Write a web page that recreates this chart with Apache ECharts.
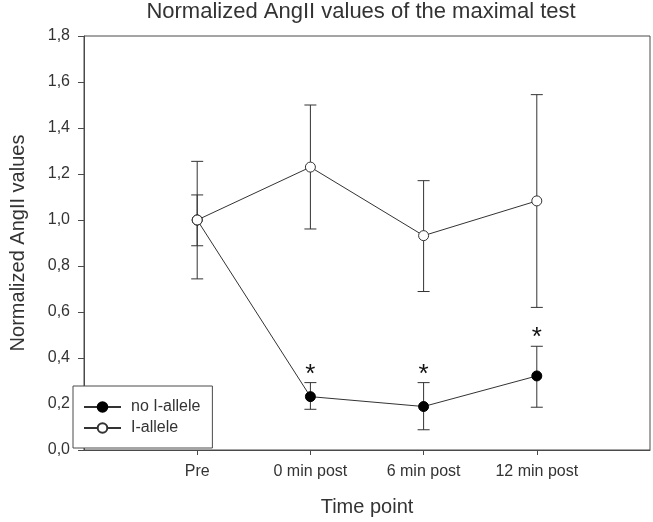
<!DOCTYPE html>
<html><head><meta charset="utf-8">
<script src="https://cdn.jsdelivr.net/npm/echarts@6/dist/echarts.min.js"></script>
<style>html,body{margin:0;padding:0;background:#fff}#c{width:653px;height:522px}</style>
</head><body><div id="c"></div>
<script>
const categories = ['Pre', '0 min post', '6 min post', '12 min post'];
const xPositions = [1, 2, 3, 4];
const yTicks = [0, 0.2, 0.4, 0.6, 0.8, 1.0, 1.2, 1.4, 1.6, 1.8];
const noAllele = [1.0, 0.232, 0.189, 0.322];
const noAlleleLow = [0.888, 0.177, 0.088, 0.186];
const noAlleleHigh = [1.109, 0.293, 0.293, 0.451];
const iAllele = [1.0, 1.230, 0.932, 1.083];
const iAlleleLow = [0.744, 0.961, 0.689, 0.620];
const iAlleleHigh = [1.255, 1.500, 1.171, 1.545];
const significance = ['', '*', '*', '*'];

const dark = '#333';
const axisColor = '#4a4a4a';
const font = 'Liberation Sans, Arial, sans-serif';

function errData(low, high) {
  return xPositions.map((x, i) => [x, low[i], high[i]]);
}
function errRender(params, api) {
  const x = api.value(0);
  const lo = api.coord([x, api.value(1)]);
  const hi = api.coord([x, api.value(2)]);
  const w = 6;
  const style = { stroke: dark, lineWidth: 1, fill: null };
  return {
    type: 'group',
    children: [
      { type: 'line', shape: { x1: lo[0], y1: lo[1], x2: hi[0], y2: hi[1] }, style },
      { type: 'line', shape: { x1: lo[0] - w, y1: lo[1], x2: lo[0] + w, y2: lo[1] }, style },
      { type: 'line', shape: { x1: hi[0] - w, y1: hi[1], x2: hi[0] + w, y2: hi[1] }, style }
    ]
  };
}

const chart = echarts.init(document.getElementById('c'), null, { renderer: 'canvas' });
chart.setOption({
  animation: false,
  backgroundColor: '#fff',
  title: {
    text: 'Normalized AngII values of the maximal test',
    left: 361, top: 1, padding: 0, textAlign: 'center',
    textStyle: { fontFamily: font, fontSize: 22, fontWeight: 'normal', color: dark }
  },
  grid: { left: 72, right: 3, top: 36, bottom: 70, show: true, borderColor: axisColor, borderWidth: 1, backgroundColor: 'transparent' },
  legend: {
    orient: 'vertical', left: 73, top: 386,
    padding: [13, 12, 12, 10], itemGap: 5, itemWidth: 37, itemHeight: 12,
    borderColor: axisColor, borderWidth: 1, backgroundColor: '#fff',
    textStyle: { fontFamily: font, fontSize: 16, lineHeight: 16, color: dark, padding: [0, 0, 0, 5] },
    data: ['no I-allele', 'I-allele']
  },
  xAxis: {
    type: 'value', min: 0, max: 5, interval: 1,
    name: 'Time point', nameLocation: 'middle', nameGap: 47,
    nameTextStyle: { fontFamily: font, fontSize: 20, color: dark },
    splitLine: { show: false },
    axisLine: { lineStyle: { color: axisColor } },
    axisTick: { show: true, customValues: xPositions, length: 5, lineStyle: { color: axisColor } },
    axisLabel: {
      customValues: xPositions, margin: 14,
      fontFamily: font, fontSize: 16, color: dark,
      formatter: v => categories[xPositions.indexOf(v)] || ''
    }
  },
  yAxis: {
    type: 'value', min: 0, max: 1.8, interval: 0.2,
    name: 'Normalized AngII values', nameLocation: 'middle', nameGap: 56, nameRotate: 90,
    nameTextStyle: { fontFamily: font, fontSize: 20, color: dark },
    splitLine: { show: false },
    axisLine: { show: true, lineStyle: { color: axisColor } },
    axisTick: { show: true, length: 6, lineStyle: { color: axisColor } },
    axisLabel: {
      margin: 14, fontFamily: font, fontSize: 16, color: dark,
      formatter: v => yTicks.some(t => Math.abs(t - v) < 1e-9) ? v.toFixed(1).replace('.', ',') : ''
    }
  },
  series: [
    { type: 'custom', name: 'errNo', renderItem: errRender, data: errData(noAlleleLow, noAlleleHigh), z: 2, silent: true },
    { type: 'custom', name: 'errI', renderItem: errRender, data: errData(iAlleleLow, iAlleleHigh), z: 2, silent: true },
    {
      type: 'line', name: 'no I-allele', data: xPositions.map((x, i) => [x, noAllele[i]]),
      symbol: 'circle', symbolSize: 10, showAllSymbol: true, z: 3,
      lineStyle: { color: dark, width: 1 },
      itemStyle: { color: '#000', borderColor: '#000', borderWidth: 1 }
    },
    {
      type: 'line', name: 'I-allele', data: xPositions.map((x, i) => [x, iAllele[i]]),
      symbol: 'circle', symbolSize: 10, showAllSymbol: true, z: 4,
      lineStyle: { color: dark, width: 1 },
      itemStyle: { color: '#fff', borderColor: dark, borderWidth: 1 }
    },
    {
      type: 'custom', name: 'sig', z: 5, silent: true,
      data: xPositions.map((x, i) => [x, noAlleleHigh[i]]),
      renderItem: (params, api) => {
        const p = api.coord([api.value(0), api.value(1)]);
        const s = significance[params.dataIndex];
        return {
          type: 'text',
          style: { text: s, x: p[0], y: p[1] + 5, textAlign: 'center', textVerticalAlign: 'bottom', font: '26px ' + font, fill: '#111' }
        };
      }
    }
  ]
});
</script></body></html>
